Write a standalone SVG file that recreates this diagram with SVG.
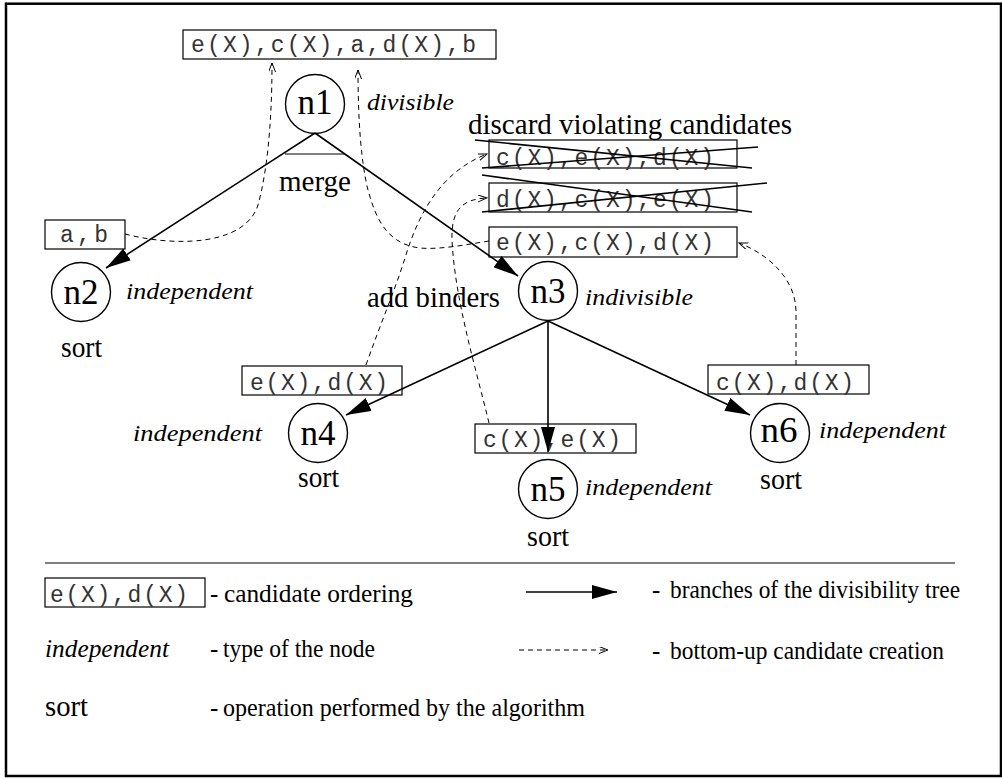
<svg xmlns="http://www.w3.org/2000/svg" width="1002" height="779" viewBox="0 0 1002 779">
  <style>
    .frame { fill: none; stroke: #000; stroke-width: 2.5; }
    .box { fill: #fff; stroke: #000; stroke-width: 1.2; }
    .node { fill: #fff; stroke: #000; stroke-width: 1.4; }
    .mono { font-family: "Liberation Mono", "DejaVu Sans Mono", monospace; font-size: 23px; fill: #333; }
    .serif { font-family: "Liberation Serif", "Times New Roman", serif; fill: #000; }
    .lbl { font-size: 35px; }
    .op { font-size: 29px; }
    .kind { font-size: 23px; font-style: italic; }
    .legend { font-size: 25px; }
    .branch { fill: none; stroke: #000; stroke-width: 1.6; }
    .flow { fill: none; stroke: #000; stroke-width: 1; stroke-dasharray: 5 4; }
    .strike { stroke: #000; stroke-width: 1.6; }
    .rule { stroke: #000; stroke-width: 1.2; }
  </style>
  <defs>
    <marker id="solidHead" markerUnits="userSpaceOnUse" markerWidth="25" markerHeight="14" refX="25" refY="7" orient="auto">
      <path d="M0,0 L25,7 L0,14 z" fill="#000"/>
    </marker>
    <marker id="openHead" markerUnits="userSpaceOnUse" markerWidth="10" markerHeight="8" refX="9" refY="3.5" orient="auto">
      <path d="M0,0 L9,3.5 L0,7" fill="none" stroke="#000" stroke-width="1"/>
    </marker>
  </defs>

  <rect class="frame" x="6" y="3.7" width="995" height="772.3"/>

  <!-- candidate orderings -->
  <g id="cand-top">
    <rect class="box" x="183" y="30" width="313" height="29"/>
    <text class="mono" x="191" y="52" textLength="285" lengthAdjust="spacing">e(X),c(X),a,d(X),b</text>
  </g>
  <g id="cand-ab">
    <rect class="box" x="45" y="220" width="80" height="29"/>
    <text class="mono" x="60" y="242" textLength="48" lengthAdjust="spacing">a,b</text>
  </g>
  <g id="cand-ced">
    <rect class="box" x="489" y="140" width="248" height="28"/>
    <text class="mono" x="496" y="165" textLength="218" lengthAdjust="spacing">c(X),e(X),d(X)</text>
    <line class="strike" x1="475" y1="140" x2="752" y2="168"/>
    <line class="strike" x1="482" y1="168" x2="758" y2="147"/>
  </g>
  <g id="cand-dce">
    <rect class="box" x="489" y="183" width="248" height="29"/>
    <text class="mono" x="496" y="207" textLength="218" lengthAdjust="spacing">d(X),c(X),e(X)</text>
    <line class="strike" x1="482" y1="175" x2="752" y2="212"/>
    <line class="strike" x1="482" y1="212" x2="767" y2="183"/>
  </g>
  <g id="cand-ecd">
    <rect class="box" x="489" y="227" width="248" height="30"/>
    <text class="mono" x="496" y="250" textLength="218" lengthAdjust="spacing">e(X),c(X),d(X)</text>
  </g>
  <g id="cand-ed">
    <rect class="box" x="242" y="366" width="160" height="29"/>
    <text class="mono" x="250" y="390" textLength="138" lengthAdjust="spacing">e(X),d(X)</text>
  </g>
  <g id="cand-ce">
    <rect class="box" x="475" y="424" width="161" height="29"/>
    <text class="mono" x="483" y="447" textLength="138" lengthAdjust="spacing">c(X),e(X)</text>
  </g>
  <g id="cand-cd">
    <rect class="box" x="708" y="365" width="161" height="29"/>
    <text class="mono" x="716" y="390" textLength="138" lengthAdjust="spacing">c(X),d(X)</text>
  </g>

  <!-- tree nodes -->
  <g id="n1">
    <circle class="node" cx="315" cy="104" r="29.5"/>
    <text class="serif lbl" x="315" y="114" text-anchor="middle" textLength="35" lengthAdjust="spacingAndGlyphs">n1</text>
    <text class="serif kind" x="367" y="110" textLength="87" lengthAdjust="spacingAndGlyphs">divisible</text>
    <text class="serif op" x="279" y="191" textLength="72" lengthAdjust="spacingAndGlyphs">merge</text>
  </g>
  <g id="n2">
    <circle class="node" cx="81" cy="292" r="29.5"/>
    <text class="serif lbl" x="81" y="304" text-anchor="middle" textLength="35" lengthAdjust="spacingAndGlyphs">n2</text>
    <text class="serif kind" x="126" y="299" textLength="127" lengthAdjust="spacingAndGlyphs">independent</text>
    <text class="serif op" x="61" y="357" textLength="41" lengthAdjust="spacingAndGlyphs">sort</text>
  </g>
  <g id="n3">
    <circle class="node" cx="548" cy="291" r="29.5"/>
    <text class="serif lbl" x="548" y="303" text-anchor="middle" textLength="35" lengthAdjust="spacingAndGlyphs">n3</text>
    <text class="serif kind" x="585" y="305" textLength="108" lengthAdjust="spacingAndGlyphs">indivisible</text>
    <text class="serif op" x="367" y="307" textLength="133" lengthAdjust="spacingAndGlyphs">add binders</text>
  </g>
  <g id="n4">
    <circle class="node" cx="318" cy="433" r="29.5"/>
    <text class="serif lbl" x="318" y="445" text-anchor="middle" textLength="35" lengthAdjust="spacingAndGlyphs">n4</text>
    <text class="serif kind" x="133" y="441" textLength="129" lengthAdjust="spacingAndGlyphs">independent</text>
    <text class="serif op" x="298" y="487" textLength="41" lengthAdjust="spacingAndGlyphs">sort</text>
  </g>
  <g id="n5">
    <circle class="node" cx="548" cy="489" r="29.5"/>
    <text class="serif lbl" x="548" y="501" text-anchor="middle" textLength="35" lengthAdjust="spacingAndGlyphs">n5</text>
    <text class="serif kind" x="585" y="495" textLength="127" lengthAdjust="spacingAndGlyphs">independent</text>
    <text class="serif op" x="527" y="546" textLength="42" lengthAdjust="spacingAndGlyphs">sort</text>
  </g>
  <g id="n6">
    <circle class="node" cx="780" cy="433" r="29.5"/>
    <text class="serif lbl" x="779" y="442" text-anchor="middle" textLength="37" lengthAdjust="spacingAndGlyphs">n6</text>
    <text class="serif kind" x="819" y="438" textLength="127" lengthAdjust="spacingAndGlyphs">independent</text>
    <text class="serif op" x="760" y="489" textLength="42" lengthAdjust="spacingAndGlyphs">sort</text>
  </g>

  <g id="discard-note">
    <text class="serif op" x="468" y="134" textLength="324" lengthAdjust="spacingAndGlyphs">discard violating candidates</text>
  </g>

  <!-- tree branches and candidate propagation, drawn over the boxes -->
  <g id="connectors">
    <line class="branch" x1="315" y1="133" x2="106" y2="268" marker-end="url(#solidHead)"/>
    <line class="branch" x1="315" y1="133" x2="518" y2="276" marker-end="url(#solidHead)"/>
    <line class="branch" x1="548" y1="321" x2="346" y2="415" marker-end="url(#solidHead)"/>
    <line class="branch" x1="548" y1="321" x2="548" y2="452" marker-end="url(#solidHead)"/>
    <line class="branch" x1="548" y1="321" x2="750" y2="415" marker-end="url(#solidHead)"/>
    <line class="rule" x1="285" y1="154" x2="345" y2="154"/>

    <path class="flow" d="M125,234 C175,247 245,246 258,205 C266,176 272,130 272,63" marker-end="url(#openHead)"/>
    <path class="flow" d="M489,241 C470,244 440,250 420,248 C385,244 375,215 368,190 C361,162 358,120 358,70" marker-end="url(#openHead)"/>
    <path class="flow" d="M366,365 C380,325 395,290 405,258 C418,215 440,172 487,154" marker-end="url(#openHead)"/>
    <path class="flow" d="M489,423 C475,365 455,300 452,240 C451,210 462,199 487,198" marker-end="url(#openHead)"/>
    <path class="flow" d="M796,365 L796,312 C796,280 770,255 739,243" marker-end="url(#openHead)"/>
  </g>

  <!-- key -->
  <g id="legend">
    <line class="rule" x1="45" y1="563" x2="955" y2="563"/>
    <rect class="box" x="45" y="578" width="160" height="29"/>
    <text class="mono" x="50" y="602" textLength="138" lengthAdjust="spacing">e(X),d(X)</text>
    <text class="serif legend" x="210" y="602">-</text>
    <text class="serif legend" x="224" y="602" textLength="189" lengthAdjust="spacingAndGlyphs">candidate  ordering</text>

    <text class="serif legend" x="45" y="657" font-style="italic" textLength="124" lengthAdjust="spacingAndGlyphs">independent</text>
    <text class="serif legend" x="210" y="657">-</text>
    <text class="serif legend" x="223" y="657" textLength="152" lengthAdjust="spacingAndGlyphs">type of the node</text>

    <text class="serif op" x="45" y="716" textLength="43" lengthAdjust="spacingAndGlyphs">sort</text>
    <text class="serif legend" x="210" y="716">-</text>
    <text class="serif legend" x="223" y="716" textLength="362" lengthAdjust="spacingAndGlyphs">operation performed by the algorithm</text>

    <line class="branch" x1="526" y1="592" x2="617" y2="592" marker-end="url(#solidHead)"/>
    <text class="serif legend" x="652" y="598">-</text>
    <text class="serif legend" x="670" y="598" textLength="290" lengthAdjust="spacingAndGlyphs">branches of the divisibility tree</text>

    <line class="flow" x1="519" y1="650" x2="608" y2="650" marker-end="url(#openHead)"/>
    <text class="serif legend" x="652" y="659">-</text>
    <text class="serif legend" x="670" y="659" textLength="274" lengthAdjust="spacingAndGlyphs">bottom-up  candidate creation</text>
  </g>
</svg>
